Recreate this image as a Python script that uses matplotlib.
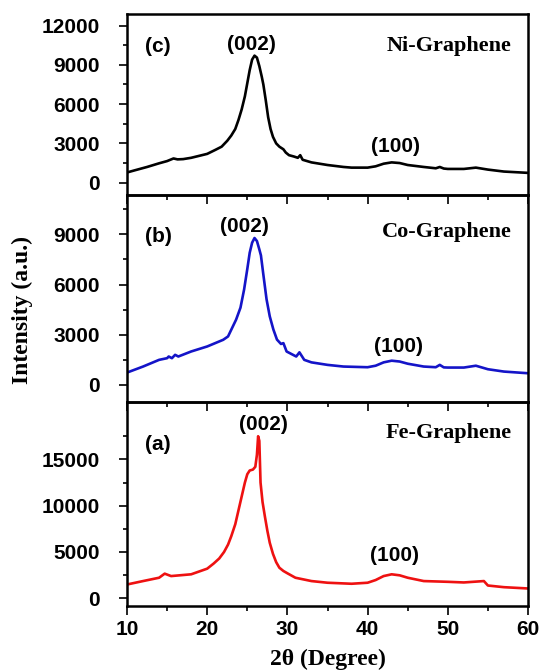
import matplotlib
matplotlib.use("Agg")
import matplotlib.pyplot as plt
from matplotlib.ticker import MultipleLocator, FixedLocator

# values (2theta in degrees, intensity in a.u.)
ni_x = [10, 11, 12.5, 14, 15, 15.8, 16.3, 17, 18, 19, 20, 21, 21.8, 22.5, 23, 23.5,
        23.9, 24.3, 24.7, 25.0, 25.3, 25.6, 25.9, 26.2, 26.5, 26.8, 27.0, 27.3, 27.6,
        27.9, 28.2, 28.6, 29.0, 29.5, 29.8, 30.2, 30.8, 31.3, 31.6, 31.9, 33, 35, 37,
        38, 40, 41, 42, 43, 44, 45, 47, 48.5, 49, 49.5, 50, 52, 53.5, 55, 57, 60]
ni_y = [780, 950, 1200, 1480, 1650, 1850, 1780, 1800, 1900, 2050, 2200, 2500, 2750,
        3200, 3600, 4100, 4790, 5600, 6600, 7600, 8600, 9400, 9700, 9550, 8900, 8100,
        7500, 6300, 5000, 4100, 3500, 3000, 2750, 2550, 2300, 2100, 2000, 1900, 2100,
        1750, 1550, 1350, 1200, 1150, 1150, 1250, 1450, 1550, 1500, 1350, 1200, 1100,
        1200, 1080, 1050, 1050, 1150, 1000, 850, 750]

co_x = [10, 12, 14, 15, 15.2, 15.6, 16, 16.4, 18, 20, 21, 22, 22.6, 23, 23.6, 24.15,
        24.6, 25.0, 25.3, 25.6, 25.9, 26.2, 26.5, 26.7, 27.0, 27.4, 27.8, 28.25, 28.7,
        29.2, 29.5, 29.9, 30.5, 31.1, 31.5, 32.1, 33, 35, 37, 40, 41, 42, 43, 44, 45,
        47, 48.5, 49, 49.5, 50, 52, 53.5, 55, 57, 60]
co_y = [740, 1100, 1500, 1600, 1700, 1600, 1800, 1700, 2000, 2300, 2500, 2700, 2900,
        3300, 3900, 4620, 5700, 6930, 7900, 8500, 8780, 8600, 8100, 7740, 6600, 5120,
        4100, 3315, 2710, 2450, 2500, 2000, 1850, 1700, 1950, 1500, 1350, 1200, 1100,
        1060, 1150, 1350, 1450, 1400, 1270, 1100, 1060, 1200, 1050, 1040, 1040, 1150,
        940, 800, 700]

fe_x = [10, 12, 14, 14.7, 15.5, 18, 20, 20.8, 21.5, 22.1, 22.6, 23.0, 23.5, 23.9,
        24.3, 24.7, 25.0, 25.3, 25.7, 26.0, 26.2, 26.35, 26.5, 26.65, 26.9, 27.2, 27.5,
        27.8, 28.2, 28.6, 29.0, 29.5, 30, 31, 33, 35, 38, 40, 41, 42, 43, 44, 45, 47,
        50, 52, 54.5, 55, 57, 60]
fe_y = [1490, 1860, 2220, 2660, 2400, 2590, 3200, 3750, 4300, 5000, 5800, 6700, 8000,
        9500, 11000, 12500, 13400, 13800, 13900, 14200, 15500, 17500, 17000, 12500,
        10400, 8800, 7300, 6000, 4800, 3900, 3300, 2950, 2700, 2220, 1860, 1680, 1570,
        1680, 1970, 2400, 2590, 2480, 2220, 1860, 1780, 1710, 1860, 1380, 1200, 1060]

names = ["Ni-Graphene", "Co-Graphene", "Fe-Graphene"]
letters = ["(c)", "(b)", "(a)"]
peak_pos = [(25.5, 0.83), (24.6, 0.85), (27.0, 0.89)]
hkl_100 = [(43.5, 2750), (43.85, 2300), (43.3, 4600)]
yticks = [[0, 3000, 6000, 9000, 12000], [0, 3000, 6000, 9000],
          [0, 5000, 10000, 15000]]
yminor = [[1500, 4500, 7500, 10500], [1500, 4500, 7500, 10500],
          [2500, 7500, 12500, 17500]]

W, H = 542, 670
sans = "Liberation Sans"
serif = "Liberation Serif"

fig = plt.figure(figsize=(W / 100, H / 100), dpi=100)

# panel boxes in pixels: (top, bottom)
boxes = [(14, 195), (195, 401.7), (401.7, 605.7)]
ylims = [(-940, 12880), (-1000, 11350), (-800, 21230)]
colors = ["black", "#1414c8", "#ee1111"]
series = [(ni_x, ni_y), (co_x, co_y), (fe_x, fe_y)]
name_y = [0.823, 0.82, 0.847]
letter_y = [0.82, 0.80, 0.79]
fs = 15

axes = []
for i in range(3):
    t, b = boxes[i]
    ax = fig.add_axes([127 / W, 1 - b / H, 401 / W, (b - t) / H])
    ax.patch.set_visible(False)
    x, y = series[i]
    ax.plot(x, y, color=colors[i], lw=1.9)
    ax.set_xlim(10, 60)
    ax.set_ylim(*ylims[i])
    ax.yaxis.set_major_locator(FixedLocator(yticks[i]))
    ax.yaxis.set_minor_locator(FixedLocator(yminor[i]))
    ax.xaxis.set_major_locator(MultipleLocator(10))
    ax.xaxis.set_minor_locator(MultipleLocator(5))
    for s in ax.spines.values():
        s.set_linewidth(1.8)
    ax.tick_params(axis="y", which="major", direction="out", length=5.8, width=1.2,
                   pad=13.5, labelsize=fs, right=False)
    ax.tick_params(axis="y", which="minor", direction="out", length=3, width=1.2,
                   right=False)
    ax.tick_params(axis="x", which="major", direction="out", length=6.5, width=1.2,
                   pad=4, labelsize=fs, top=False, labelbottom=(i == 2))
    ax.tick_params(axis="x", which="minor", direction="out", length=3.6, width=1.2,
                   top=False)
    for lab in ax.get_xticklabels() + ax.get_yticklabels():
        lab.set_fontfamily(sans)
        lab.set_fontweight("bold")
    ax.text(0.96, name_y[i], names[i], transform=ax.transAxes, ha="right", va="center",
            family=serif, weight="bold", fontsize=16)
    ax.text(0.045, letter_y[i], letters[i], transform=ax.transAxes, ha="left",
            va="center", family=sans, weight="bold", fontsize=fs)
    px, py = peak_pos[i]
    ax.text(px, py, "(002)", transform=ax.get_xaxis_transform(), ha="center",
            va="center", family=sans, weight="bold", fontsize=fs)
    hx, hy = hkl_100[i]
    ax.text(hx, hy, "(100)", ha="center", va="center", family=sans, weight="bold",
            fontsize=fs)
    axes.append(ax)

fig.text(22 / W, 1 - 310 / H, "Intensity (a.u.)", rotation=90, ha="center",
         va="center", family=serif, weight="bold", fontsize=17)
fig.text(327.5 / W, 1 - 659 / H, "2\u03b8 (Degree)", ha="center", va="center",
         family=serif, weight="bold", fontsize=17)

fig.savefig("out.png", dpi=100)
